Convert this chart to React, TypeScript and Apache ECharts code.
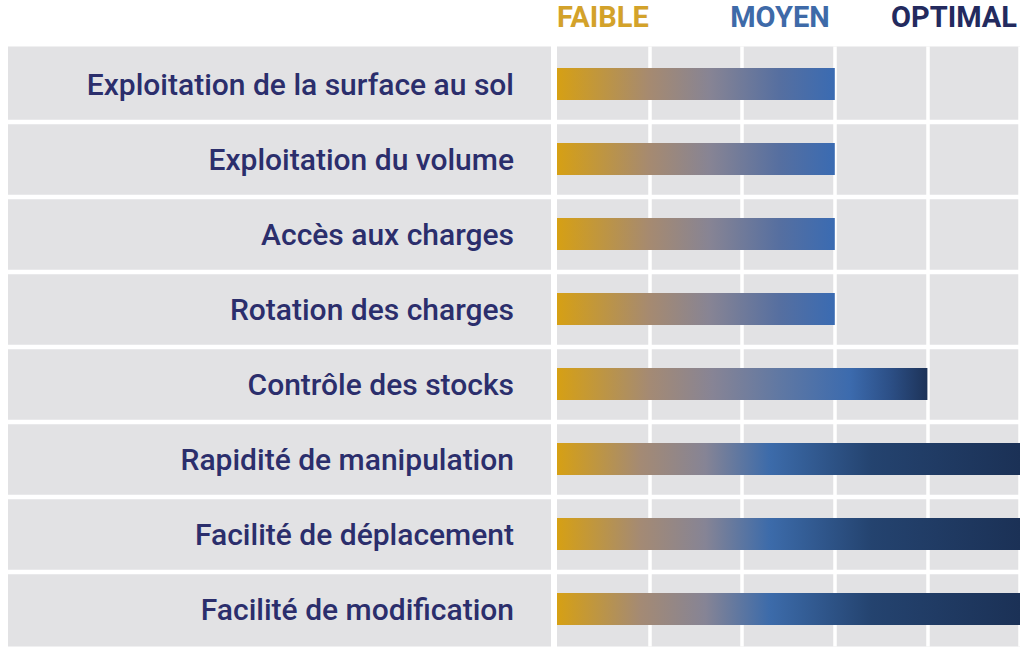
import React, { useEffect, useRef } from "react";
import * as echarts from "echarts";

const categories = [
  "Exploitation de la surface au sol",
  "Exploitation du volume",
  "Accès aux charges",
  "Rotation des charges",
  "Contrôle des stocks",
  "Rapidité de manipulation",
  "Facilité de déplacement",
  "Facilité de modification",
];
const scores = [3, 3, 3, 3, 4, 5, 5, 5];
const levelLabels = ["FAIBLE", "MOYEN", "OPTIMAL"];
const scaleMax = 5;

// gradient colour stops per bar length (styling only)
const gradientStops: Record<number, [number, string][]> = {
  3: [
    [0, "#D6A014"],
    [0.33, "#A68A70"],
    [0.55, "#878494"],
    [0.8, "#566FA0"],
    [1, "#3A6BB2"],
  ],
  4: [
    [0, "#D6A014"],
    [0.25, "#A48A74"],
    [0.42, "#878495"],
    [0.6, "#6078A3"],
    [0.79, "#3C6BAE"],
    [0.9, "#2C4F86"],
    [1, "#1D3358"],
  ],
  5: [
    [0, "#D6A014"],
    [0.18, "#A48A74"],
    [0.32, "#868495"],
    [0.46, "#3C6BAA"],
    [0.68, "#24436F"],
    [1, "#1B3156"],
  ],
};

const GRAY = "#E2E2E4";
const NAVY_TEXT = "#2B2E6C";

export default function App() {
  const ref = useRef<HTMLDivElement>(null);
  useEffect(() => {
    if (!ref.current) return;
    const chart = echarts.init(ref.current, null, { renderer: "svg" });
    const gridTop = 46.5;
    const gridHeight = 600;
    const rowSplit = { show: true, lineStyle: { color: "#ffffff", width: 4.4 }, showMinLine: false, showMaxLine: false };
    const headerFont = "bold 29px Roboto";
    chart.setOption({
      animation: false,
      backgroundColor: "#ffffff",
      grid: [
        { left: 8, width: 543, top: gridTop, height: gridHeight, show: true, backgroundColor: GRAY, borderWidth: 0 },
        { left: 557, width: 463, top: gridTop, height: gridHeight, show: true, backgroundColor: GRAY, borderWidth: 0 },
      ],
      xAxis: [
        { gridIndex: 0, type: "value", min: 0, max: 1, show: false },
        {
          gridIndex: 1,
          type: "value",
          min: 0,
          max: scaleMax,
          interval: 1,
          axisLabel: { show: false },
          axisLine: { show: false },
          axisTick: { show: false },
          splitLine: { show: true, lineStyle: { color: "#ffffff", width: 3.5 }, showMinLine: false, showMaxLine: true },
        },
      ],
      yAxis: [
        {
          gridIndex: 0,
          type: "category",
          data: categories,
          inverse: true,
          axisLabel: { show: false },
          axisLine: { show: false },
          axisTick: { show: false },
          splitLine: rowSplit,
        },
        {
          gridIndex: 1,
          type: "category",
          data: categories,
          inverse: true,
          axisLine: { show: false },
          axisTick: { show: false },
          axisLabel: {
            margin: 43,
            fontSize: 30,
            fontFamily: "Roboto",
            fontWeight: 500,
            color: NAVY_TEXT,
          },
          splitLine: rowSplit,
        },
      ],
      series: [
        {
          type: "bar",
          xAxisIndex: 1,
          yAxisIndex: 1,
          barWidth: 32,
          data: scores.map((v) => ({
            value: v,
            itemStyle: {
              color: new echarts.graphic.LinearGradient(
                0, 0, 1, 0,
                (gradientStops[v] || gradientStops[5]).map(([offset, color]) => ({ offset, color }))
              ),
            },
          })),
        },
      ],
      graphic: [
        {
          type: "text",
          style: { x: 557, y: 2, text: levelLabels[0], fill: "#D3A22A", font: headerFont, textAlign: "left", textVerticalAlign: "top" },
        },
        {
          type: "text",
          style: { x: 780, y: 2, text: levelLabels[1], fill: "#3E6AA8", font: headerFont, textAlign: "center", textVerticalAlign: "top" },
        },
        {
          type: "text",
          style: { x: 1017, y: 2, text: levelLabels[2], fill: "#232A5E", font: headerFont, textAlign: "right", textVerticalAlign: "top" },
        },
      ],
    });
    return () => chart.dispose();
  }, []);
  return (
    <div
      ref={ref}
      style={{ position: "fixed", left: 0, top: 0, width: 1024, height: 655 }}
    />
  );
}
